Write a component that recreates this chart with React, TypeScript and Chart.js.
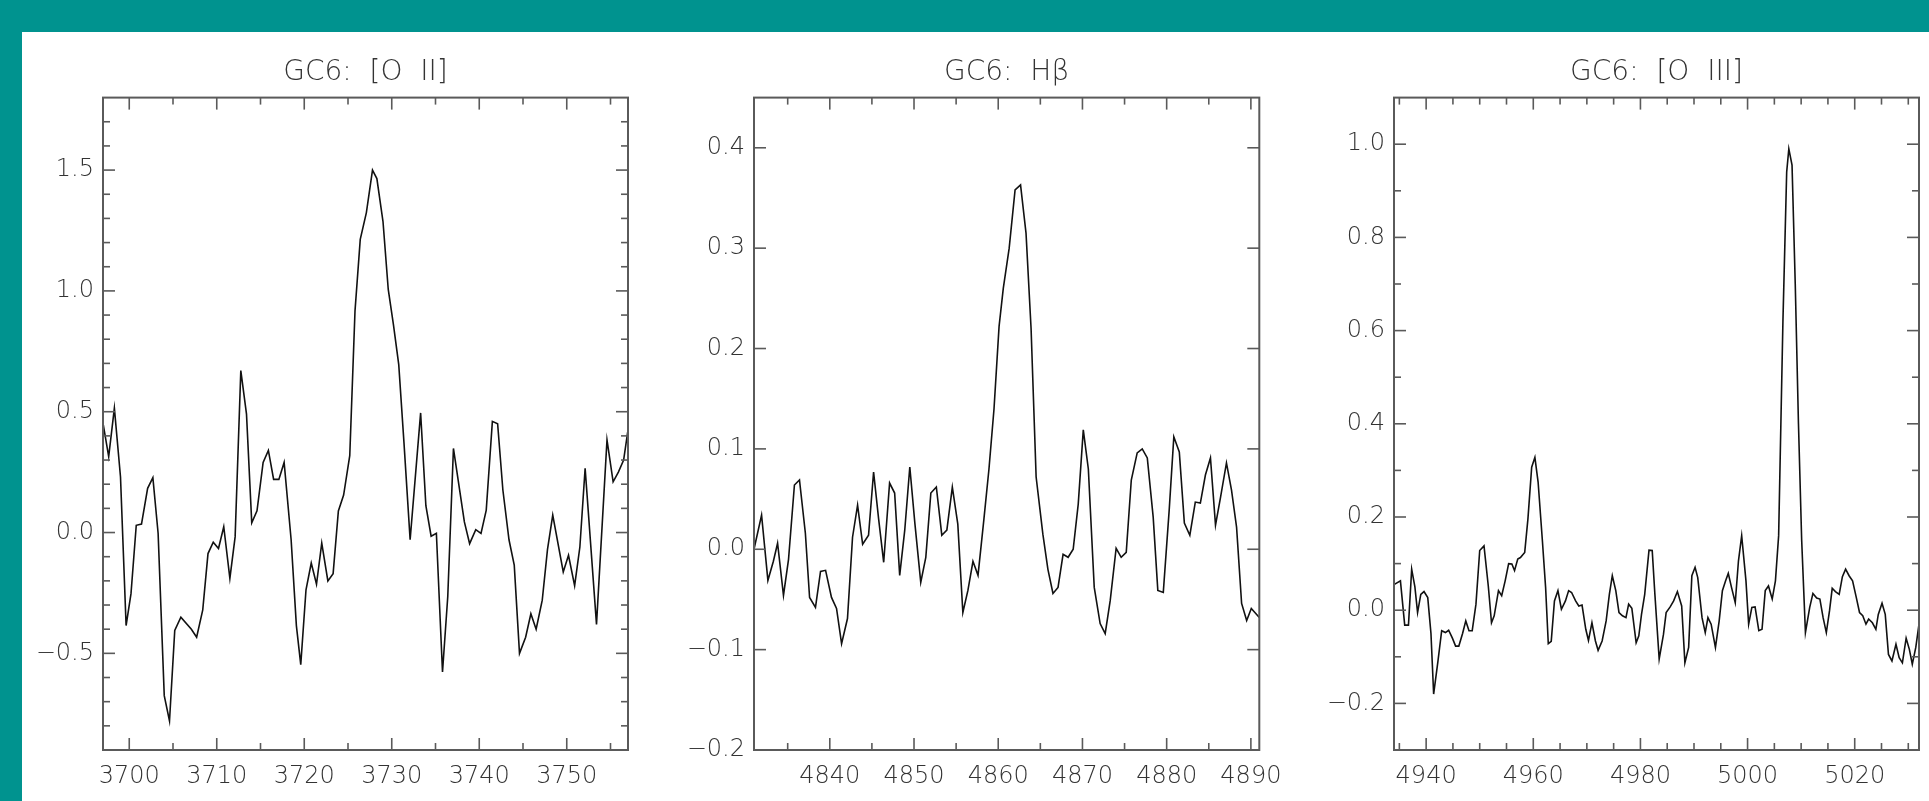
import React, { useEffect, useRef } from "react";
import { Chart, registerables } from "chart.js";

Chart.register(...registerables);

// ---------- data ----------
const titles = ["GC6:  [O  II]", "GC6:  Hβ", "GC6:  [O  III]"];

const wlOII = [
  3697.04, 3697.65, 3698.3, 3699.0, 3699.64, 3700.2, 3700.8, 3701.4, 3702.1, 3702.7,
  3703.3, 3704.0, 3704.6, 3705.2, 3705.9, 3707.1, 3707.7, 3708.4, 3709.0, 3709.6,
  3710.2, 3710.8, 3711.5, 3712.1, 3712.75, 3713.4, 3714.0, 3714.6, 3715.3, 3715.9,
  3716.5, 3717.1, 3717.7, 3718.5, 3719.1, 3719.6, 3720.2, 3720.8, 3721.4, 3722.0,
  3722.7, 3723.3, 3723.9, 3724.5, 3725.2, 3725.8, 3726.4, 3727.1, 3727.8, 3728.3,
  3729.0, 3729.6, 3730.2, 3730.8, 3731.4, 3732.1, 3733.3, 3733.9, 3734.5, 3735.1,
  3735.8, 3736.4, 3737.05, 3737.7, 3738.3, 3738.9, 3739.6, 3740.2, 3740.8, 3741.5,
  3742.1, 3742.7, 3743.4, 3744.0, 3744.6, 3745.3, 3745.9, 3746.5, 3747.2, 3747.8,
  3748.4, 3749.6, 3750.2, 3750.9, 3751.5, 3752.1, 3753.4, 3754.6, 3755.3, 3755.9,
  3756.5, 3757.0,
];
const fluxOII = [
  0.445, 0.314, 0.515, 0.23, -0.385, -0.253, 0.03, 0.035, 0.183, 0.227,
  -0.004, -0.675, -0.78, -0.405, -0.35, -0.4, -0.433, -0.32, -0.087, -0.04,
  -0.066, 0.024, -0.19, -0.018, 0.67, 0.49, 0.04, 0.09, 0.29, 0.34,
  0.22, 0.22, 0.29, -0.03, -0.385, -0.547, -0.237, -0.126, -0.214, -0.044,
  -0.2, -0.17, 0.089, 0.155, 0.318, 0.917, 1.213, 1.324, 1.5, 1.465,
  1.287, 1.006, 0.858, 0.695, 0.37, -0.03, 0.495, 0.111, -0.015, -0.003,
  -0.577, -0.266, 0.348, 0.19, 0.044, -0.046, 0.012, -0.004, 0.093, 0.46,
  0.45, 0.176, -0.03, -0.135, -0.5, -0.433, -0.336, -0.4, -0.28, -0.07,
  0.072, -0.163, -0.094, -0.22, -0.06, 0.266, -0.38, 0.383, 0.21, 0.25,
  0.3, 0.425,
];

const wlHb = [
  4831.0, 4831.9, 4832.65, 4833.3, 4833.8, 4834.5, 4835.1, 4835.8, 4836.4, 4837.1,
  4837.6, 4838.3, 4838.9, 4839.5, 4840.2, 4840.8, 4841.4, 4842.1, 4842.7, 4843.3,
  4843.9, 4844.6, 4845.2, 4845.8, 4846.4, 4847.1, 4847.7, 4848.3, 4848.9, 4849.5,
  4850.1, 4850.8, 4851.4, 4852.0, 4852.65, 4853.3, 4853.9, 4854.55, 4855.2, 4855.8,
  4856.4, 4857.0, 4857.6, 4858.3, 4858.9, 4859.5, 4860.1, 4860.6, 4861.3, 4862.0,
  4862.65, 4863.3, 4863.9, 4864.5, 4865.3, 4865.9, 4866.5, 4867.1, 4867.7, 4868.3,
  4868.9, 4869.5, 4870.1, 4870.7, 4871.4, 4872.1, 4872.7, 4873.3, 4874.0, 4874.6,
  4875.2, 4875.8, 4876.5, 4877.1, 4877.7, 4878.4, 4878.95, 4879.6, 4880.3, 4880.85,
  4881.5, 4882.1, 4882.75, 4883.4, 4884.0, 4884.6, 4885.2, 4885.8, 4886.4, 4887.1,
  4887.7, 4888.3, 4888.9, 4889.5, 4890.05, 4891.0,
];
const fluxHb = [
  0.0, 0.034, -0.031, -0.012, 0.006, -0.046, -0.01, 0.064, 0.069, 0.016,
  -0.048, -0.058, -0.022, -0.021, -0.048, -0.059, -0.094, -0.069, 0.012, 0.044,
  0.005, 0.014, 0.077, 0.03, -0.013, 0.066, 0.056, -0.026, 0.019, 0.082,
  0.026, -0.033, -0.008, 0.056, 0.062, 0.014, 0.019, 0.062, 0.025, -0.063,
  -0.041, -0.012, -0.026, 0.03, 0.08, 0.14, 0.222, 0.26, 0.3, 0.358,
  0.363, 0.315, 0.22, 0.072, 0.015, -0.02, -0.044, -0.038, -0.005, -0.008,
  0.0, 0.045, 0.119, 0.08, -0.038, -0.074, -0.084, -0.051, 0.001, -0.008,
  -0.003, 0.069, 0.096, 0.1, 0.091, 0.032, -0.041, -0.043, 0.039, 0.112,
  0.097, 0.026, 0.014, 0.047, 0.046, 0.074, 0.091, 0.024, 0.052, 0.086,
  0.059, 0.022, -0.054, -0.071, -0.059, -0.068,
];

const wlOIII = [
  4934.0, 4935.2, 4936.0, 4936.7, 4937.3, 4937.9, 4938.4, 4939.0, 4939.6, 4940.3,
  4940.9, 4941.4, 4942.2, 4942.9, 4943.6, 4944.2, 4944.9, 4945.5, 4946.1, 4946.8,
  4947.4, 4948.0, 4948.6, 4949.3, 4950.0, 4950.8, 4951.6, 4952.2, 4952.7, 4953.5,
  4954.1, 4954.75, 4955.4, 4956.0, 4956.5, 4957.1, 4957.6, 4958.4, 4959.0, 4959.7,
  4960.3, 4960.9, 4961.7, 4962.3, 4962.8, 4963.35, 4963.95, 4964.6, 4965.25, 4966.0,
  4966.6, 4967.15, 4967.9, 4968.5, 4969.1, 4969.8, 4970.3, 4970.95, 4971.6, 4972.1,
  4972.85, 4973.6, 4974.2, 4974.75, 4975.4, 4976.0, 4976.65, 4977.3, 4977.8, 4978.4,
  4979.2, 4979.7, 4980.2, 4980.8, 4981.6, 4982.2, 4982.7, 4983.5, 4984.3, 4984.8,
  4985.55, 4986.2, 4986.9, 4987.7, 4988.3, 4989.0, 4989.6, 4990.2, 4990.7, 4991.5,
  4992.1, 4992.6, 4993.2, 4994.0, 4994.7, 4995.3, 4995.9, 4996.4, 4997.0, 4997.7,
  4998.3, 4998.9, 4999.7, 5000.2, 5000.8, 5001.4, 5002.1, 5002.7, 5003.3, 5003.9,
  5004.6, 5005.2, 5005.8, 5006.6, 5007.3, 5007.7, 5008.3, 5008.9, 5009.5, 5010.1,
  5010.8, 5011.6, 5012.2, 5012.9, 5013.5, 5014.1, 5014.7, 5015.3, 5015.8, 5016.4,
  5017.1, 5017.7, 5018.3, 5018.95, 5019.6, 5020.3, 5020.9, 5021.5, 5022.1, 5022.6,
  5023.3, 5023.95, 5024.4, 5025.1, 5025.7, 5026.3, 5026.95, 5027.7, 5028.3, 5028.9,
  5029.6, 5030.2, 5030.75, 5031.4, 5032.0,
];
const fluxOIII = [
  0.055, 0.063, -0.032, -0.032, 0.088, 0.05, -0.005, 0.034, 0.04, 0.027,
  -0.05, -0.18, -0.11, -0.044, -0.048, -0.043, -0.06, -0.077, -0.077, -0.05,
  -0.023, -0.044, -0.044, 0.013, 0.128, 0.138, 0.052, -0.027, -0.012, 0.042,
  0.031, 0.063, 0.1, 0.099, 0.085, 0.11, 0.113, 0.124, 0.196, 0.307,
  0.328, 0.275, 0.149, 0.049, -0.072, -0.067, 0.02, 0.042, 0.002, 0.02,
  0.042, 0.038, 0.02, 0.009, 0.011, -0.041, -0.065, -0.027, -0.066, -0.086,
  -0.066, -0.023, 0.034, 0.074, 0.042, -0.005, -0.012, -0.016, 0.013, 0.004,
  -0.07, -0.055, -0.009, 0.034, 0.129, 0.128, 0.034, -0.105, -0.052, -0.005,
  0.007, 0.02, 0.04, 0.009, -0.113, -0.08, 0.074, 0.092, 0.07, -0.016,
  -0.048, -0.016, -0.03, -0.08, -0.023, 0.042, 0.063, 0.079, 0.049, 0.016,
  0.106, 0.16, 0.063, -0.03, 0.006, 0.007, -0.044, -0.041, 0.042, 0.052,
  0.024, 0.063, 0.16, 0.62, 0.94, 0.99, 0.955, 0.7, 0.4, 0.15,
  -0.048, 0.006, 0.036, 0.026, 0.024, -0.016, -0.048, -0.001, 0.047, 0.04,
  0.034, 0.072, 0.088, 0.074, 0.063, 0.027, -0.005, -0.012, -0.03, -0.019,
  -0.027, -0.041, -0.009, 0.015, -0.009, -0.095, -0.109, -0.073, -0.102, -0.113,
  -0.06, -0.084, -0.116, -0.08, -0.03,
];

// tick labels
const xTicksOII = [3700, 3710, 3720, 3730, 3740, 3750];
const yTicksOII = [-0.5, 0.0, 0.5, 1.0, 1.5];
const xTicksHb = [4840, 4850, 4860, 4870, 4880, 4890];
const yTicksHb = [-0.2, -0.1, 0.0, 0.1, 0.2, 0.3, 0.4];
const xTicksOIII = [4940, 4960, 4980, 5000, 5020];
const yTicksOIII = [-0.2, 0.0, 0.2, 0.4, 0.6, 0.8, 1.0];

// axis ranges
const xRangeOII = [3697, 3757];
const yRangeOII = [-0.9, 1.8];
const xRangeHb = [4831, 4891];
const yRangeHb = [-0.2, 0.45];
const xRangeOIII = [4934, 5032];
const yRangeOIII = [-0.3, 1.1];

// minor tick steps
const xMinorOII = 5, yMinorOII = 0.1;
const xMinorHb = 5, yMinorHb = 0.1;
const xMinorOIII = 5, yMinorOIII = 0.1;

// ---------- style / layout ----------
const TEAL = "#00938f";
const TEXT = "#333333";
const FONT = "'DejaVu Sans', 'Liberation Sans', sans-serif";
const FONT_WEIGHT = "300";
const BOX_LEFTS = [103, 754, 1394];
const BOX_W = 525;
const Y_AXIS_W = 95;
const PAD_R = 15;
const CANVAS_TOP = 40;
const CANVAS_H = 761;
const X_AXIS_H = 51;

const panels = [
  { title: titles[0], wl: wlOII, flux: fluxOII, xTicks: xTicksOII, yTicks: yTicksOII, xr: xRangeOII, yr: yRangeOII, xm: xMinorOII, ym: yMinorOII },
  { title: titles[1], wl: wlHb, flux: fluxHb, xTicks: xTicksHb, yTicks: yTicksHb, xr: xRangeHb, yr: yRangeHb, xm: xMinorHb, ym: yMinorHb },
  { title: titles[2], wl: wlOIII, flux: fluxOIII, xTicks: xTicksOIII, yTicks: yTicksOIII, xr: xRangeOIII, yr: yRangeOIII, xm: xMinorOIII, ym: yMinorOIII },
];

const boxTicks = {
  id: "boxTicks",
  afterDatasetsDraw(chart: any, _args: any, opts: any) {
    const { ctx, chartArea: a, scales } = chart;
    const xs = scales.x;
    const ys = scales.y;
    const p = opts.panel;
    ctx.save();
    ctx.strokeStyle = "#5a5a5a";
    ctx.lineWidth = 2;
    ctx.strokeRect(a.left, a.top, a.right - a.left, a.bottom - a.top);
    ctx.lineWidth = 1.6;
    const seg = (x1: number, y1: number, x2: number, y2: number) => {
      ctx.beginPath();
      ctx.moveTo(x1, y1);
      ctx.lineTo(x2, y2);
      ctx.stroke();
    };
    const isMajor = (v: number, arr: number[]) => arr.some((t) => Math.abs(t - v) < 1e-6);
    const step = (lo: number, hi: number, s: number) => {
      const out: number[] = [];
      for (let k = Math.ceil(lo / s - 1e-9); k <= Math.floor(hi / s + 1e-9); k++) out.push(+(k * s).toFixed(6));
      return out;
    };
    const xMajStep = p.xTicks[1] - p.xTicks[0];
    const yMajStep = +(p.yTicks[1] - p.yTicks[0]).toFixed(6);
    const xMaj = step(p.xr[0], p.xr[1], xMajStep);
    const yMaj = step(p.yr[0], p.yr[1], yMajStep);
    for (const v of step(p.xr[0], p.xr[1], p.xm)) {
      const len = isMajor(v, xMaj) ? 12 : 7;
      const px = xs.getPixelForValue(v);
      if (px <= a.left + 1 || px >= a.right - 1) continue;
      seg(px, a.bottom, px, a.bottom - len);
      seg(px, a.top, px, a.top + len);
    }
    for (const v of step(p.yr[0], p.yr[1], p.ym)) {
      const len = isMajor(v, yMaj) ? 12 : 7;
      const py = ys.getPixelForValue(v);
      if (py <= a.top + 1 || py >= a.bottom - 1) continue;
      seg(a.left, py, a.left + len, py);
      seg(a.right, py, a.right - len, py);
    }
    ctx.restore();
  },
};

function fmtY(v: number) {
  const s = (Math.abs(v) < 1e-9 ? 0 : v).toFixed(1);
  return s.replace("-", "\u2212");
}

function Panel({ p, left }: { p: any; left: number }) {
  const ref = useRef<HTMLCanvasElement>(null);
  useEffect(() => {
    const chart = new Chart(ref.current as HTMLCanvasElement, {
      type: "line",
      data: {
        datasets: [
          {
            data: p.wl.map((x: number, i: number) => ({ x, y: p.flux[i] })),
            borderColor: "#111111",
            borderWidth: 1.6,
            pointRadius: 0,
            tension: 0,
            fill: false,
          },
        ],
      },
      options: {
        animation: false,
        responsive: false,
        devicePixelRatio: 1,
        layout: { padding: { left: 0, right: PAD_R, top: 0, bottom: 0 } },
        plugins: {
          legend: { display: false },
          tooltip: { enabled: false },
          title: {
            display: true,
            fullSize: false,
            text: p.title,
            color: TEXT,
            font: { family: FONT, size: 28, weight: FONT_WEIGHT },
            padding: { top: 16, bottom: 8 },
          },
          boxTicks: { panel: p },
        } as any,
        scales: {
          x: {
            type: "linear",
            min: p.xr[0],
            max: p.xr[1],
            grid: { display: false, drawTicks: false },
            border: { display: false },
            ticks: {
              color: TEXT,
              font: { family: FONT, size: 24, weight: FONT_WEIGHT },
              padding: 12,
              maxRotation: 0,
              autoSkip: false,
              callback: (v: any) => String(v),
            },
            afterBuildTicks: (s: any) => {
              s.ticks = p.xTicks.map((v: number) => ({ value: v }));
            },
            afterFit: (s: any) => {
              s.height = X_AXIS_H;
            },
          },
          y: {
            type: "linear",
            min: p.yr[0],
            max: p.yr[1],
            grid: { display: false, drawTicks: false },
            border: { display: false },
            ticks: {
              color: TEXT,
              font: { family: FONT, size: 24, weight: FONT_WEIGHT },
              padding: 9,
              autoSkip: false,
              callback: (v: any) => fmtY(Number(v)),
            },
            afterBuildTicks: (s: any) => {
              s.ticks = p.yTicks.map((v: number) => ({ value: v }));
            },
            afterFit: (s: any) => {
              s.width = Y_AXIS_W;
            },
          },
        },
      } as any,
      plugins: [boxTicks],
    });
    return () => chart.destroy();
  }, [p]);
  return (
    <canvas
      ref={ref}
      width={Y_AXIS_W + BOX_W + PAD_R}
      height={CANVAS_H}
      style={{ position: "absolute", left: left - Y_AXIS_W, top: CANVAS_TOP, width: Y_AXIS_W + BOX_W + PAD_R, height: CANVAS_H }}
    />
  );
}

export default function App() {
  return (
    <div style={{ position: "absolute", left: 0, top: 0, width: 1929, height: 801, background: TEAL, overflow: "hidden" }}>
      <div style={{ position: "absolute", left: 22, top: 32, right: 0, bottom: 0, background: "#ffffff" }} />
      {panels.map((p, i) => (
        <Panel key={i} p={p} left={BOX_LEFTS[i]} />
      ))}
    </div>
  );
}
